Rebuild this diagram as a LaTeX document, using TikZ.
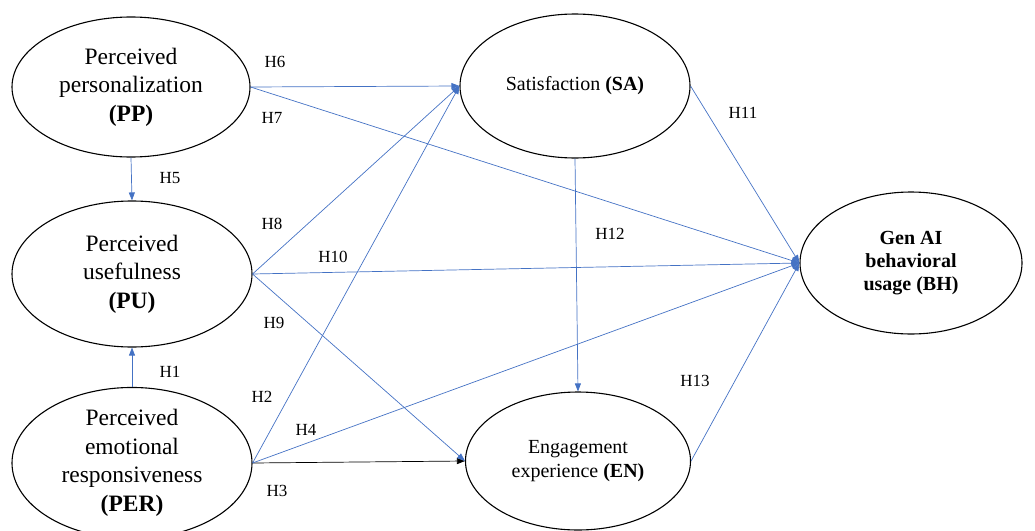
\documentclass[tikz,border=0pt]{standalone}
\usepackage{fontspec}
\setmainfont{Liberation Serif}
\usetikzlibrary{arrows.meta, positioning, shapes.geometric}
\definecolor{linkblue}{RGB}{68,114,196}
\tikzset{
    construct/.style={draw, ellipse, line width=1.1pt, inner sep=0pt, align=center, font=\fontsize{23.5}{28.5}\selectfont},
    outcome/.style={construct, font=\fontsize{20}{23.3}\selectfont},
    link/.style={draw=linkblue, line width=0.7pt, -{Triangle[length=8pt, width=6pt]}},
    hyp/.style={font=\fontsize{17}{20}\selectfont}
}

\begin{document}
\begin{tikzpicture}[x=1pt, y=-1pt]
    \clip (0,0) rectangle (1035,530);

    % constructs
    \node[construct, minimum width=238pt, minimum height=140pt] (pp) at (131,87) {Perceived\\personalization\\\textbf{(PP)}};
    \node[construct, minimum width=240pt, minimum height=146pt] (pu) at (132,274) {Perceived\\usefulness\\\textbf{(PU)}};
    \node[construct, minimum width=240pt, minimum height=140pt] (per) at (132,463) {Perceived\\emotional\\responsiveness\\\textbf{(PER)}};
    \node[outcome, minimum width=230pt, minimum height=144pt] (sa) at (575,86) {Satisfaction \textbf{(SA)}};
    \node[outcome, minimum width=225pt, minimum height=138pt] (en) at (578,461) {Engagement\\experience \textbf{(EN)}};
    \node[outcome, minimum width=222pt, minimum height=142pt] (bh) at (911,263) {\textbf{Gen AI}\\\textbf{behavioral}\\\textbf{usage (BH)}};

    % hypotheses
    \draw[link] (per.north) -- (pu.south);
    \draw[link] (per.east) -- (sa.west);
    \draw[link, draw=black] (per.east) -- (en.west);
    \draw[link] (per.east) -- (bh.west);
    \draw[link] (pp.south) -- (pu.north);
    \draw[link] (pp.east) -- (sa.west);
    \draw[link] (pp.east) -- (bh.west);
    \draw[link] (pu.east) -- (sa.west);
    \draw[link] (pu.east) -- (en.west);
    \draw[link] (pu.east) -- (bh.west);
    \draw[link] (sa.east) -- (bh.west);
    \draw[link] (sa.south) -- (en.north);
    \draw[link] (en.east) -- (bh.west);

    % labels
    \node[hyp] (h1) at (170,372) {H1};
    \node[hyp] (h2) at (262,397) {H2};
    \node[hyp] (h3) at (277,491) {H3};
    \node[hyp] (h4) at (306,430) {H4};
    \node[hyp] (h5) at (170,178) {H5};
    \node[hyp] (h6) at (275,62) {H6};
    \node[hyp] (h7) at (272,118) {H7};
    \node[hyp] (h8) at (272,224) {H8};
    \node[hyp] (h9) at (274,323) {H9};
    \node[hyp] (h10) at (333,257) {H10};
    \node[hyp] (h11) at (743,113) {H11};
    \node[hyp] (h12) at (610,234) {H12};
    \node[hyp] (h13) at (695,381) {H13};
\end{tikzpicture}
\end{document}
